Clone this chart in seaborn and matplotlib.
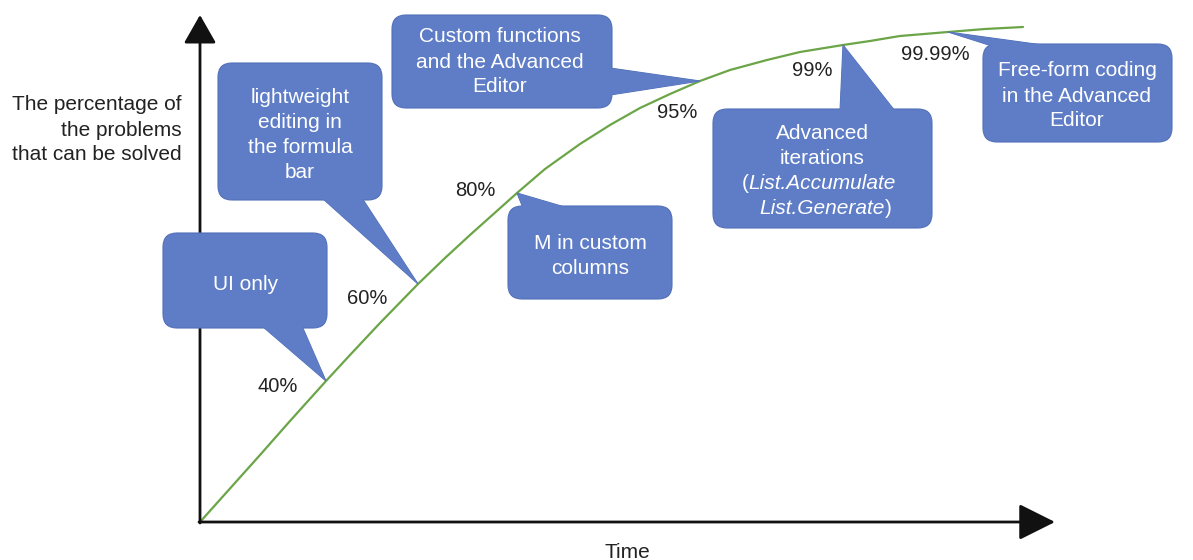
import matplotlib
matplotlib.use("Agg")
import matplotlib.pyplot as plt
from matplotlib.patches import FancyBboxPatch, Polygon
import seaborn as sns

# curve (origin = where the two axes meet)
time = [0, 60, 90, 126, 150, 180, 218, 245, 270, 317, 345, 380, 410, 440,
        470, 500, 530, 567, 600, 643, 670, 700, 748, 785, 823]
level = [0, 67, 101, 141, 167, 199, 238, 264, 287, 329, 353, 378, 397, 414,
         428, 441, 452, 462, 470, 477, 481, 486, 490, 493, 495]

# milestones on the curve
stage_labels = ["40%", "60%", "80%", "95%", "99%", "99.99%"]
stage_idx = [3, 6, 9, 15, 19, 22]
label_pos = [(78, 138), (167, 225), (275, 334), (477, 412), (612, 454), (735, 470)]

# callouts: text (*...* = italic), box (x0, y0, x1, y1), pointer base, text centre
callout_text = [
    "UI only",
    "lightweight\nediting in\nthe formula\nbar",
    "Custom functions\nand the Advanced\nEditor",
    "M in custom\ncolumns",
    "Advanced\niterations\n(*List.Accumulate*\n*List.Generate*)",
    "Free-form coding\nin the Advanced\nEditor",
]
callout_stage = [0, 1, 3, 2, 4, 5]
callout_box = [(-37, 194, 127, 289), (18, 322, 182, 459), (192, 414, 412, 507),
               (308, 223, 472, 316), (513, 294, 732, 413), (783, 380, 972, 478)]
callout_base = [((62, 196), (102, 196)), ((122, 324), (162, 324)),
                ((410, 454), (410, 427)), ((323, 314), (368, 314)),
                ((640, 411), (695, 411)), ((792, 476), (850, 476))]
callout_center = [(46, 239), (100, 389), (300, 462), (390, 268), (622, 353), (877, 428)]

ylabel_lines = ["The percentage of", "the problems", "that can be solved"]

sns.set_theme(style="white")
plt.rcParams["font.family"] = ["Liberation Sans", "DejaVu Sans"]

fig = plt.figure(figsize=(11.93, 5.6), dpi=100)
ax = fig.add_axes([0, 0, 1, 1])
ax.set_xlim(-200, 993)
ax.set_ylim(-38, 522)
ax.set_axis_off()

box_color = "#5E7DC6"
edge_color = "#5270B8"
ink = "#222222"
step = 25  # line pitch of the labels
va = "center_baseline"

# axes with arrow heads
ax.annotate("", xy=(0, 507), xytext=(0, -1),
            arrowprops=dict(arrowstyle="-|>,head_length=0.7,head_width=0.4",
                            lw=2, color="#111111", mutation_scale=25, shrinkA=0, shrinkB=0))
ax.annotate("", xy=(855, 0), xytext=(-1, 0),
            arrowprops=dict(arrowstyle="-|>,head_length=0.9,head_width=0.45",
                            lw=2, color="#111111", mutation_scale=25, shrinkA=0, shrinkB=0))

sns.lineplot(x=time, y=level, ax=ax, color="#6BA547", linewidth=1.6)

for lab, (lx, ly) in zip(stage_labels, label_pos):
    ax.text(lx, ly, lab, ha="center", va=va, fontsize=14.5, color=ink)


def draw_line(x, y, line, color):
    if "*" not in line:
        ax.text(x, y, line, ha="center", va=va, fontsize=15, color=color, zorder=5)
        return
    pre, it, post = line.split("*")
    t = ax.text(x, y, it, ha="center", va=va, fontsize=15, color=color,
                style="italic", zorder=5)
    if pre:
        ax.annotate(pre, xy=(0, 0.5), xycoords=t, ha="right", va="center",
                    fontsize=15, color=color, zorder=5)
    if post:
        ax.annotate(post, xy=(1, 0.5), xycoords=t, ha="left", va="center",
                    fontsize=15, color=color, zorder=5)


for i, txt in enumerate(callout_text):
    x0, y0, x1, y1 = callout_box[i]
    k = stage_idx[callout_stage[i]]
    tip = (time[k], level[k])
    b1, b2 = callout_base[i]
    ax.add_patch(Polygon([b1, tip, b2], closed=True, facecolor=box_color,
                         edgecolor=edge_color, lw=0.8, zorder=3))
    ax.add_patch(FancyBboxPatch((x0, y0), x1 - x0, y1 - y0,
                                boxstyle="round,pad=0,rounding_size=14",
                                facecolor=box_color, edgecolor=edge_color, lw=0.8, zorder=3))
    # cover the seam between pointer and box
    ax.add_patch(Polygon([b1, tip, b2], closed=True, facecolor=box_color,
                         edgecolor="none", zorder=4))
    cx, cy = callout_center[i]
    lines = txt.split("\n")
    top = cy + (len(lines) - 1) / 2 * step
    for j, line in enumerate(lines):
        draw_line(cx, top - j * step, line, "white")

top = 394 + step
for j, line in enumerate(ylabel_lines):
    ax.text(-18, top - j * step, line, ha="right", va=va, fontsize=15, color=ink)
ax.text(427, -28, "Time", ha="center", va=va, fontsize=15, color=ink)

fig.savefig("out.png", dpi=100)
